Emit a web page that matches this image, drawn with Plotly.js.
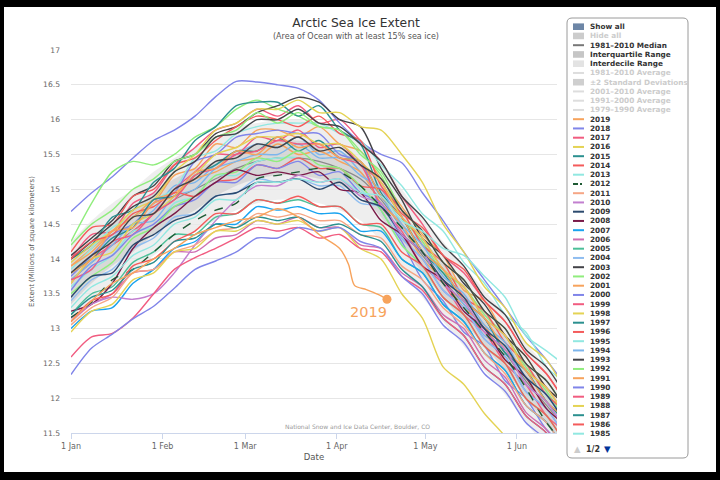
<!DOCTYPE html>
<html>
<head>
<meta charset="utf-8">
<script src="https://cdn.plot.ly/plotly-3.0.1.min.js"></script>
<style>
  html, body { margin: 0; padding: 0; background: #000; }
  #chart { width: 720px; height: 480px; }
</style>
</head>
<body>
<div id="chart"></div>
<script>
// Weekly sample dates (Jan 1 .. mid June) shared by every season
const dates = ['2019-01-01','2019-01-08','2019-01-15','2019-01-22','2019-01-29','2019-02-05','2019-02-12',
  '2019-02-19','2019-02-26','2019-03-05','2019-03-12','2019-03-19','2019-03-26','2019-04-02','2019-04-09',
  '2019-04-16','2019-04-23','2019-04-30','2019-05-07','2019-05-14','2019-05-21','2019-05-28','2019-06-04',
  '2019-06-11','2019-06-18'];
// The current season stops at its latest observation
const dates2019 = ['2019-01-01','2019-01-08','2019-01-15','2019-01-22','2019-01-29','2019-02-05','2019-02-12',
  '2019-02-19','2019-02-26','2019-03-05','2019-03-12','2019-03-19','2019-03-26','2019-04-02',
  '2019-04-05','2019-04-07','2019-04-11','2019-04-15','2019-04-18'];

// 1981-2010 climatology (millions of km²)
const median    = [13.70,13.95,14.20,14.40,14.65,14.85,15.00,15.15,15.30,15.40,15.45,15.45,15.40,15.30,15.15,14.85,14.45,14.05,13.70,13.35,13.00,12.65,12.25,11.90,11.55];
const iqrUpper  = [14.05,14.25,14.50,14.70,14.95,15.15,15.30,15.40,15.55,15.65,15.70,15.70,15.65,15.55,15.40,15.10,14.70,14.30,13.95,13.60,13.25,12.90,12.50,12.15,11.80];
const iqrLower  = [13.35,13.65,13.90,14.10,14.35,14.55,14.70,14.90,15.05,15.15,15.20,15.20,15.15,15.05,14.90,14.60,14.20,13.80,13.45,13.10,12.75,12.40,12.00,11.65,11.30];
const idrUpper  = [14.25,14.55,14.80,15.00,15.25,15.45,15.60,15.75,15.90,15.95,16.00,16.00,15.95,15.85,15.70,15.40,15.00,14.60,14.25,13.90,13.55,13.20,12.80,12.45,12.10];
const idrLower  = [13.05,13.35,13.60,13.80,14.05,14.25,14.40,14.55,14.70,14.80,14.85,14.85,14.80,14.70,14.55,14.25,13.85,13.45,13.10,12.75,12.40,12.05,11.65,11.30,10.95];

// Extent by season (millions of km²)
const ext1979 = [14.00,14.35,14.40,14.80,14.95,15.35,15.60,15.85,15.95,16.15,16.05,16.20,15.95,16.00,15.70,15.40,14.90,14.50,14.05,13.80,13.40,13.10,12.65,12.35,11.90];
const ext1980 = [14.68,14.95,15.18,15.45,15.70,15.85,16.05,16.33,16.55,16.54,16.50,16.45,16.28,15.95,15.68,15.50,15.38,14.95,14.55,14.10,13.70,13.30,12.90,12.55,12.15];
const ext1981 = [13.90,14.15,14.40,14.60,14.80,15.20,15.30,15.65,15.60,15.85,15.85,15.75,15.90,15.65,15.55,15.15,14.75,14.35,14.05,13.55,13.40,12.90,12.60,12.15,11.90];
const ext1982 = [14.25,14.80,15.25,15.40,15.35,15.50,15.75,15.90,16.15,16.28,16.15,16.05,15.90,15.85,15.55,15.20,14.60,14.25,13.80,13.60,13.20,12.90,12.45,12.10,11.65];
const ext1983 = [14.05,14.30,14.55,14.90,15.05,15.40,15.50,15.80,15.90,16.10,16.20,16.32,16.25,16.00,15.90,15.30,14.85,14.30,14.05,13.65,13.35,12.90,12.60,12.15,11.90];
const ext1984 = [13.80,14.05,14.30,14.50,14.70,15.05,15.10,15.35,15.50,15.65,15.60,15.75,15.50,15.55,15.25,14.90,14.45,14.10,13.65,13.35,12.90,12.75,12.20,11.95,11.45];
const ext1985 = [13.85,14.15,14.45,14.60,14.85,15.00,15.45,15.55,15.80,15.90,15.95,15.95,15.95,15.80,15.70,15.35,15.05,14.65,14.40,13.95,13.65,13.20,12.95,12.45,12.20];
const ext1986 = [14.10,14.45,14.50,14.90,15.00,15.35,15.45,15.70,15.90,16.05,16.00,15.90,16.05,15.80,15.70,15.05,14.70,14.20,13.95,13.45,13.25,12.80,12.50,12.05,11.80];
const ext1987 = [14.00,14.20,14.60,14.70,15.10,15.30,15.70,15.90,16.20,16.25,16.25,16.05,16.20,15.85,15.65,14.95,14.60,14.10,13.80,13.40,13.15,12.65,12.40,11.95,11.65];
const ext1988 = [13.95,14.20,14.40,14.70,14.85,15.25,15.50,15.85,15.95,16.15,16.15,16.28,16.10,16.10,15.90,15.85,15.50,15.10,14.50,14.10,13.60,13.30,12.80,12.55,12.05];
const ext1989 = [13.65,14.00,14.20,14.40,14.65,15.00,15.25,15.50,15.50,15.75,15.70,15.85,15.60,15.65,15.35,15.10,14.60,14.30,13.85,13.60,13.15,12.90,12.40,12.15,11.70];
const ext1990 = [13.75,14.05,14.35,14.50,14.80,14.95,15.40,15.50,15.75,15.80,15.85,15.80,15.80,15.50,15.40,14.70,14.25,13.70,13.40,12.95,12.75,12.25,12.00,11.55,11.30];
const ext1991 = [13.90,14.10,14.40,14.60,14.85,14.95,15.15,15.25,15.40,15.45,15.65,15.50,15.55,15.40,15.25,14.80,14.50,14.00,13.70,13.30,13.05,12.55,12.30,11.85,11.60];
const ext1992 = [14.20,14.50,14.70,15.00,15.15,15.40,15.50,15.75,15.85,16.10,15.95,16.10,15.90,15.85,15.50,15.25,14.70,14.40,13.95,13.70,13.25,13.00,12.50,12.25,11.80];
const ext1993 = [14.00,14.25,14.50,14.75,14.90,15.25,15.40,15.75,15.80,16.00,16.00,16.15,15.95,15.90,15.65,15.40,14.90,14.60,14.20,13.90,13.45,13.20,12.70,12.45,12.00];
const ext1994 = [13.70,13.95,14.20,14.50,14.55,14.90,15.00,15.30,15.40,15.50,15.50,15.65,15.45,15.45,15.20,15.00,14.50,14.20,13.75,13.50,13.05,12.80,12.30,12.05,11.60];
const ext1995 = [13.60,13.85,14.05,14.40,14.45,14.80,14.90,15.20,15.20,15.40,15.45,15.45,15.30,15.30,15.00,14.70,14.20,13.90,13.45,13.20,12.75,12.50,12.00,11.75,11.30];
const ext1996 = [14.00,14.25,14.35,14.65,14.75,14.95,14.90,15.10,15.15,15.35,15.30,15.45,15.30,15.30,15.05,15.00,14.65,14.45,14.05,13.85,13.40,13.10,12.65,12.35,11.90];
const ext1997 = [13.80,14.00,14.30,14.45,14.85,14.90,15.20,15.35,15.55,15.55,15.75,15.55,15.70,15.45,15.40,14.90,14.60,14.10,13.85,13.40,13.15,12.65,12.40,11.95,11.70];
const ext1998 = [13.65,14.00,14.10,14.50,14.65,14.90,15.20,15.50,15.60,15.75,15.75,15.80,15.65,15.65,15.40,15.10,14.60,14.30,13.85,13.60,13.15,12.90,12.40,12.15,11.70];
const ext1999 = [13.70,13.85,14.25,14.35,14.65,14.85,15.20,15.30,15.50,15.55,15.70,15.65,15.65,15.45,15.35,14.75,14.40,13.90,13.65,13.20,12.95,12.50,12.20,11.75,11.50];
const ext2000 = [13.55,13.90,14.05,14.35,14.50,14.75,14.85,15.10,15.10,15.35,15.30,15.40,15.20,15.25,14.95,14.80,14.30,14.00,13.55,13.30,12.85,12.60,12.10,11.85,11.40];
const ext2001 = [13.80,14.00,14.40,14.45,14.80,14.90,15.25,15.30,15.55,15.50,15.75,15.60,15.65,15.45,15.40,14.90,14.60,14.10,13.85,13.40,13.15,12.70,12.40,11.95,11.70];
const ext2002 = [13.50,13.75,13.95,14.30,14.45,14.75,14.90,15.20,15.25,15.45,15.40,15.55,15.35,15.30,15.05,14.70,14.20,13.90,13.45,13.20,12.75,12.50,12.00,11.75,11.30];
const ext2003 = [13.80,14.05,14.25,14.60,14.65,15.00,15.15,15.40,15.45,15.65,15.60,15.75,15.55,15.60,15.35,15.15,14.70,14.40,13.95,13.70,13.25,13.00,12.50,12.25,11.80];
const ext2004 = [13.40,13.70,13.85,14.15,14.30,14.60,14.65,14.90,14.95,15.15,15.10,15.15,15.05,15.05,14.80,14.75,14.30,14.00,13.55,13.30,12.85,12.60,12.10,11.85,11.40];
const ext2005 = [13.20,13.50,13.60,13.95,14.10,14.35,14.35,14.60,14.65,14.85,14.80,14.85,14.75,14.75,14.50,14.45,14.00,13.80,13.35,13.10,12.65,12.40,11.90,11.65,11.20];
const ext2006 = [13.10,13.35,13.50,13.80,13.85,14.10,14.10,14.30,14.35,14.55,14.50,14.60,14.45,14.45,14.20,14.15,13.80,13.60,13.20,13.00,12.55,12.30,11.80,11.55,11.10];
const ext2007 = [13.00,13.25,13.30,13.65,13.85,14.15,14.25,14.50,14.50,14.75,14.70,14.75,14.65,14.65,14.40,14.40,14.00,13.80,13.35,13.10,12.65,12.40,11.90,11.65,11.20];
const ext2008 = [13.25,13.35,13.65,14.15,14.45,14.65,14.90,15.10,15.28,15.20,15.25,15.20,15.25,15.00,14.95,14.55,14.35,13.90,13.70,13.25,13.00,12.55,12.30,11.85,11.60];
const ext2009 = [13.45,13.75,13.80,14.20,14.35,14.55,14.65,14.90,14.95,15.10,15.10,15.15,15.00,15.10,14.85,14.75,14.35,14.10,13.70,13.45,13.00,12.75,12.30,12.05,11.60];
const ext2010 = [13.15,13.35,13.45,13.42,13.50,13.80,14.20,14.55,14.85,15.05,15.05,15.20,15.10,15.15,14.90,14.80,14.35,14.10,13.65,13.40,12.95,12.70,12.20,11.95,11.50];
const ext2011 = [13.05,13.30,13.45,13.80,13.85,14.10,14.20,14.40,14.45,14.65,14.60,14.65,14.55,14.55,14.35,14.30,13.90,13.70,13.30,13.05,12.65,12.35,11.90,11.65,11.20];
const ext2012 = [13.16,13.38,13.70,13.85,14.10,14.35,14.55,14.70,14.80,15.15,15.20,15.25,15.30,15.25,15.05,14.75,14.45,14.10,13.65,13.30,12.95,12.60,12.15,11.65,11.30];
const ext2013 = [13.30,13.60,13.75,14.05,14.20,14.50,14.60,14.85,14.85,15.10,15.10,15.15,15.10,15.15,14.95,14.90,14.55,14.40,14.15,14.05,13.75,13.45,12.90,12.68,12.45];
const ext2014 = [13.10,13.40,13.50,13.90,14.00,14.25,14.40,14.65,14.65,14.85,14.80,14.90,14.75,14.75,14.50,14.50,14.10,13.90,13.45,13.20,12.75,12.50,12.00,11.75,11.30];
const ext2015 = [13.20,13.45,13.55,13.85,13.95,14.25,14.30,14.50,14.45,14.60,14.55,14.60,14.45,14.50,14.35,14.25,13.85,13.60,13.15,12.90,12.45,12.20,11.75,11.50,11.05];
const ext2016 = [12.95,13.25,13.35,13.70,13.80,14.10,14.15,14.40,14.40,14.55,14.50,14.55,14.40,14.45,14.15,14.00,13.50,13.15,12.45,12.20,11.78,11.45,10.95,10.70,10.25];
const ext2017 = [12.59,12.88,12.93,13.15,13.50,13.85,14.02,14.15,14.30,14.45,14.40,14.45,14.30,14.35,14.15,14.10,13.75,13.55,13.15,12.90,12.45,12.20,11.75,11.50,11.05];
const ext2018 = [12.34,12.72,12.92,13.14,13.32,13.58,13.85,13.97,14.10,14.30,14.30,14.45,14.40,14.45,14.25,14.15,13.75,13.50,13.05,12.80,12.35,12.10,11.65,11.40,10.95];
const ext2019 = [13.10,13.40,13.65,13.80,14.00,14.15,14.35,14.45,14.55,14.60,14.72,14.60,14.35,14.15,13.92,13.62,13.56,13.49,13.42];

const years = [1979,1980,1981,1982,1983,1984,1985,1986,1987,1988,1989,1990,1991,1992,1993,1994,1995,1996,1997,1998,
  1999,2000,2001,2002,2003,2004,2005,2006,2007,2008,2009,2010,2011,2012,2013,2014,2015,2016,2017,2018,2019];
const seasons = [ext1979,ext1980,ext1981,ext1982,ext1983,ext1984,ext1985,ext1986,ext1987,ext1988,ext1989,ext1990,
  ext1991,ext1992,ext1993,ext1994,ext1995,ext1996,ext1997,ext1998,ext1999,ext2000,ext2001,ext2002,ext2003,ext2004,
  ext2005,ext2006,ext2007,ext2008,ext2009,ext2010,ext2011,ext2012,ext2013,ext2014,ext2015,ext2016,ext2017,ext2018,ext2019];

// Line colours per season (same order as `years`)
const yearColors = ['#f15c80','#8085e9','#f7a35c','#90ed7d','#434348','#7cb5ec','#91e8e1','#f45b5b','#2b908f','#e4d354',
  '#f15c80','#8085e9','#f7a35c','#90ed7d','#434348','#7cb5ec','#91e8e1','#f45b5b','#2b908f','#e4d354',
  '#f15c80','#8085e9','#f7a35c','#90ed7d','#434348','#8fbdf0','#4cbf98','#cf6fb2','#1aa3ef','#7a1a48',
  '#2c4a6e','#c27fcf','#f6a685','#1e5a34','#91e8e1','#f45b5b','#2b908f','#e4d354','#f15c80','#8085e9','#f7a35c'];

const FONT = 'DejaVu Sans, Verdana, sans-serif';
const traces = [];
const band = (y, fill, color) => ({
  x: dates, y: y, type: 'scatter', mode: 'lines',
  line: { width: 0, shape: 'spline', smoothing: 0.8 },
  fill: fill, fillcolor: color, hoverinfo: 'skip', showlegend: false
});
traces.push(band(idrLower, 'none', null));
traces.push(band(idrUpper, 'tonexty', 'rgba(232,232,232,0.75)'));
traces.push(band(iqrLower, 'none', null));
traces.push(band(iqrUpper, 'tonexty', 'rgba(205,205,205,0.65)'));
traces.push({
  x: dates, y: median, type: 'scatter', mode: 'lines', name: '1981–2010 Median',
  line: { color: '#8a8a8a', width: 1.2, shape: 'spline', smoothing: 0.8 }, hoverinfo: 'skip'
});

years.forEach((yr, i) => {
  const is2019 = yr === 2019;
  traces.push({
    x: is2019 ? dates2019 : dates,
    y: seasons[i],
    type: 'scatter', mode: 'lines', name: String(yr),
    line: { color: yearColors[i], width: 1.4, shape: 'spline', smoothing: 0.8, dash: yr === 2012 ? 'dash' : 'solid' },
    hoverinfo: 'skip'
  });
});

// Marker on the latest 2019 value
const last2019 = ext2019.length - 1;
traces.push({
  x: [dates2019[last2019]], y: [ext2019[last2019]], type: 'scatter', mode: 'markers',
  marker: { color: '#f7a35c', size: 9 }, hoverinfo: 'skip', showlegend: false
});

// Pixel -> paper helpers for the decorations outside the plot area
const MARGIN = { l: 71, r: 163, t: 50, b: 47 };
const PW = 720 - MARGIN.l - MARGIN.r;
const PH = 480 - MARGIN.t - MARGIN.b;
const px = x => (x - MARGIN.l) / PW;
const py = y => (480 - MARGIN.b - y) / PH;

const shapes = [];
const annotations = [];

// White card inside the black frame
shapes.push({ type: 'rect', xref: 'paper', yref: 'paper', layer: 'below',
  x0: px(4), x1: px(716), y0: py(472), y1: py(7), fillcolor: '#ffffff', line: { width: 0 } });

// Rounded legend box
(function () {
  const x0 = 567, x1 = 688, y0 = 18, y1 = 458, r = 5;
  const P = (x, y) => `${px(x)},${py(y)}`;
  const path = `M ${P(x0 + r, y0)} L ${P(x1 - r, y0)} Q ${P(x1, y0)} ${P(x1, y0 + r)} ` +
    `L ${P(x1, y1 - r)} Q ${P(x1, y1)} ${P(x1 - r, y1)} L ${P(x0 + r, y1)} Q ${P(x0, y1)} ${P(x0, y1 - r)} ` +
    `L ${P(x0, y0 + r)} Q ${P(x0, y0)} ${P(x0 + r, y0)} Z`;
  shapes.push({ type: 'path', xref: 'paper', yref: 'paper', path: path,
    fillcolor: '#ffffff', line: { color: '#9a9a9a', width: 1 } });
})();

// Legend entries
const legendRows = [
  { label: 'Show all', kind: 'box', color: '#6d86a6', text: '#333333' },
  { label: 'Hide all', kind: 'box', color: '#cccccc', text: '#cccccc' },
  { label: '1981–2010 Median', kind: 'line', color: '#777777', text: '#333333' },
  { label: 'Interquartile Range', kind: 'box', color: '#c6c6c6', text: '#333333' },
  { label: 'Interdecile Range', kind: 'box', color: '#e3e3e3', text: '#333333' },
  { label: '1981–2010 Average', kind: 'line', color: '#dddddd', text: '#cccccc' },
  { label: '±2 Standard Deviations', kind: 'box', color: '#cfcfcf', text: '#cccccc' },
  { label: '2001–2010 Average', kind: 'line', color: '#dddddd', text: '#cccccc' },
  { label: '1991–2000 Average', kind: 'line', color: '#dddddd', text: '#cccccc' },
  { label: '1979–1990 Average', kind: 'line', color: '#dddddd', text: '#cccccc' }
];
for (let i = years.length - 1; i >= 0; i--) {
  if (years[i] < 1985) break;
  legendRows.push({ label: String(years[i]), kind: 'line', color: yearColors[i], text: '#333333',
    dash: years[i] === 2012 });
}
legendRows.forEach((row, k) => {
  const yc = 26.7 + k * 9.25;
  if (row.kind === 'box') {
    shapes.push({ type: 'rect', xref: 'paper', yref: 'paper', x0: px(573), x1: px(584),
      y0: py(yc + 3.3), y1: py(yc - 3.3), fillcolor: row.color, line: { width: 0 } });
  } else {
    shapes.push({ type: 'line', xref: 'paper', yref: 'paper', x0: px(573), x1: px(584),
      y0: py(yc), y1: py(yc), line: { color: row.color, width: 2, dash: row.dash ? '5px,2px,2px' : 'solid' } });
  }
  annotations.push({ xref: 'paper', yref: 'paper', x: px(588), y: py(yc), xanchor: 'left', yanchor: 'middle',
    text: row.label, showarrow: false, font: { family: FONT, size: 7.3, color: row.text, weight: 'bold' } });
});
// Legend paging
annotations.push({ xref: 'paper', yref: 'paper', x: px(577), y: py(449), xanchor: 'center', yanchor: 'middle',
  text: '▲', showarrow: false, font: { family: FONT, size: 8.5, color: '#cccccc' } });
annotations.push({ xref: 'paper', yref: 'paper', x: px(583.5), y: py(449), xanchor: 'left', yanchor: 'middle',
  text: '1/2', showarrow: false, font: { family: FONT, size: 8, color: '#333333', weight: 'bold' } });
annotations.push({ xref: 'paper', yref: 'paper', x: px(607.5), y: py(449), xanchor: 'center', yanchor: 'middle',
  text: '▼', showarrow: false, font: { family: FONT, size: 8.5, color: '#003399' } });

// Subtitle and credit line
annotations.push({ xref: 'paper', yref: 'paper', x: px(356), y: py(37), xanchor: 'center', yanchor: 'middle',
  text: '(Area of Ocean with at least 15% sea ice)', showarrow: false,
  font: { family: FONT, size: 8, color: '#555555' } });
annotations.push({ xref: 'paper', yref: 'paper', x: px(432), y: py(426), xanchor: 'right', yanchor: 'middle',
  text: 'National Snow and Ice Data Center, Boulder, CO', showarrow: false,
  font: { family: FONT, size: 6, color: '#999999' } });

// Current-season label next to its end marker
annotations.push({ xref: 'x', yref: 'y', x: dates2019[last2019], y: ext2019[last2019],
  xanchor: 'center', yanchor: 'middle', xshift: -18, yshift: -13, text: '2019', showarrow: false,
  font: { family: FONT, size: 14.5, color: '#f7a35c' } });

const layout = {
  width: 720, height: 480,
  margin: MARGIN,
  paper_bgcolor: '#000000',
  plot_bgcolor: 'rgba(0,0,0,0)',
  font: { family: FONT, color: '#333333' },
  showlegend: false,
  title: {
    text: 'Arctic Sea Ice Extent',
    font: { family: FONT, size: 12.3, color: '#333333' },
    xref: 'container', x: 356 / 720, xanchor: 'center',
    yref: 'container', y: 1 - 23 / 480, yanchor: 'middle'
  },
  xaxis: {
    type: 'date',
    range: ['2019-01-01', '2019-06-14 14:00'],
    tick0: '2019-01-01', dtick: 'M1', tickformat: '%-d %b',
    ticks: 'outside', ticklen: 5, tickcolor: '#ccd6eb',
    showline: true, linecolor: '#ccd6eb', linewidth: 1,
    showgrid: false, zeroline: false,
    tickfont: { family: FONT, size: 8, color: '#666666' },
    title: { text: 'Date', standoff: 4, font: { family: FONT, size: 8.5, color: '#555555' } },
    automargin: false, fixedrange: true
  },
  yaxis: {
    range: [11.5, 17], tick0: 11.5, dtick: 0.5,
    gridcolor: '#e6e6e6', gridwidth: 1,
    zeroline: false, showline: false, ticks: '',
    ticklabelstandoff: 10,
    tickfont: { family: FONT, size: 7.6, color: '#666666' },
    title: { text: 'Extent (Millions of square kilometers)', standoff: 7,
      font: { family: FONT, size: 7, color: '#555555' } },
    automargin: false, fixedrange: true
  },
  shapes: shapes,
  annotations: annotations
};

Plotly.newPlot('chart', traces, layout, { staticPlot: true, displayModeBar: false });
</script>
</body>
</html>
